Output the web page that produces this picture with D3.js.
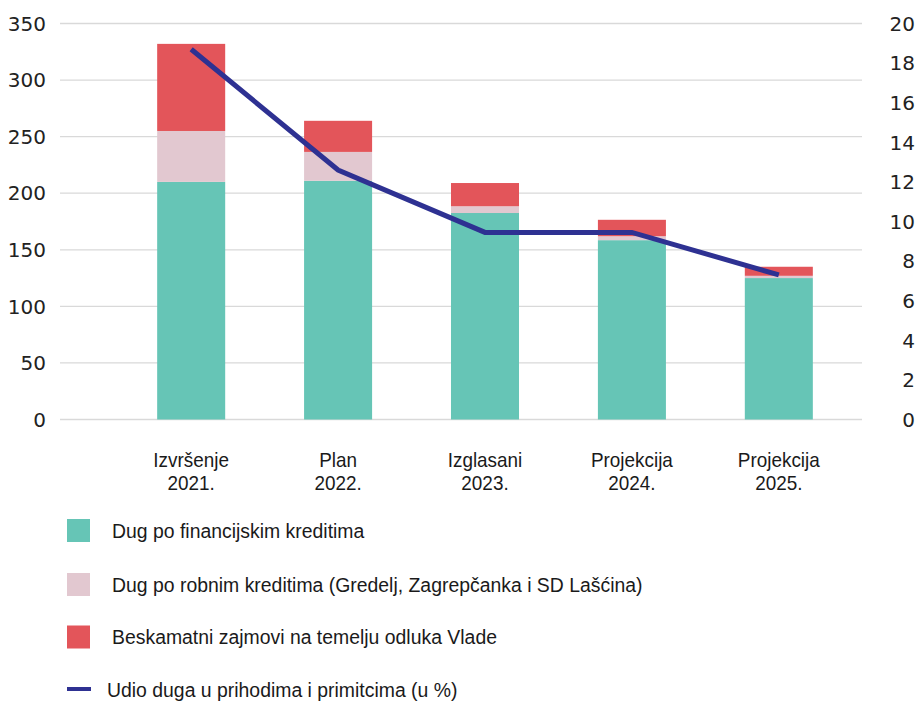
<!DOCTYPE html>
<html>
<head>
<meta charset="utf-8">
<script src="https://cdn.jsdelivr.net/npm/d3@7"></script>
<style>
  body { margin: 0; background: #fff; }
  .tick-label { font-family: "DejaVu Sans", sans-serif; font-size: 20px; fill: #222; }
  .cat-label, .legend-label { font-family: "Liberation Sans", sans-serif; fill: #1a1a1a; }
</style>
</head>
<body>
<div id="chart"></div>
<script>
// categories and series (mil. kn / %)
const categories = ['Izvršenje 2021.', 'Plan 2022.', 'Izglasani 2023.', 'Projekcija 2024.', 'Projekcija 2025.'];
const financijski = [210, 211, 182.5, 158.5, 125];
const robni = [45, 25.5, 6, 3.5, 2];
const beskamatni = [77, 27.5, 20.5, 14.5, 8];
const udio = [18.7, 12.6, 9.45, 9.45, 7.3];
const leftTicks = [0, 50, 100, 150, 200, 250, 300, 350];
const rightTicks = [0, 2, 4, 6, 8, 10, 12, 14, 16, 18, 20];

const seriesNames = [
    'Dug po financijskim kreditima',
    'Dug po robnim kreditima (Gredelj, Zagrepčanka i SD Lašćina)',
    'Beskamatni zajmovi na temelju odluka Vlade'
];
const lineName = 'Udio duga u prihodima i primitcima (u %)';
const colors = ['#66c5b6', '#e2c8d0', '#e3555a'];
const lineColor = '#2e3192';

const width = 919, height = 701;
const plot = { left: 60, right: 862, top: 23.5, bottom: 419.5 };

// squeeze text horizontally to imitate the narrow font of the original
function narrow(sel, k) {
    sel.each(function () {
        let len = this.getComputedTextLength();
        d3.select(this)
            .attr('textLength', len * k)
            .attr('lengthAdjust', 'spacingAndGlyphs');
    });
}

const svg = d3.select('#chart')
    .append('svg')
    .attr('width', width)
    .attr('height', height);

const x = d3.scaleBand()
    .domain(categories)
    .range([117.5, 852.5])
    .paddingInner(0.537)
    .paddingOuter(0.27);

const yLeft = d3.scaleLinear().domain([0, 350]).range([plot.bottom, plot.top]);
const yRight = d3.scaleLinear().domain([0, 20]).range([plot.bottom, plot.top]);

// gridlines
svg.append('g')
    .selectAll('line')
    .data(leftTicks).enter()
    .append('line')
    .attr('x1', plot.left)
    .attr('x2', plot.right)
    .attr('y1', d => yLeft(d))
    .attr('y2', d => yLeft(d))
    .attr('stroke', '#d9d9d9')
    .attr('stroke-width', 1.3);

// left axis labels
svg.append('g')
    .selectAll('text')
    .data(leftTicks).enter()
    .append('text')
    .attr('class', 'tick-label')
    .attr('x', 46)
    .attr('y', d => yLeft(d))
    .attr('dy', '0.36em')
    .attr('text-anchor', 'end')
    .text(d => d);

// right axis labels
svg.append('g')
    .selectAll('text')
    .data(rightTicks).enter()
    .append('text')
    .attr('class', 'tick-label')
    .attr('x', 915)
    .attr('y', d => yRight(d))
    .attr('dy', '0.36em')
    .attr('text-anchor', 'end')
    .text(d => d);

// stacked bars
const table = categories.map((c, i) => ({
    cat: c, s0: financijski[i], s1: robni[i], s2: beskamatni[i]
}));
const stacked = d3.stack().keys(['s0', 's1', 's2'])(table);

svg.append('g')
    .selectAll('g')
    .data(stacked).enter()
    .append('g')
    .attr('fill', (d, i) => colors[i])
    .selectAll('rect')
    .data(d => d).enter()
    .append('rect')
    .attr('x', d => x(d.data.cat))
    .attr('width', x.bandwidth())
    .attr('y', d => yLeft(d[1]))
    .attr('height', d => yLeft(d[0]) - yLeft(d[1]));

// line
const line = d3.line()
    .x((d, i) => x(categories[i]) + x.bandwidth() / 2)
    .y(d => yRight(d));

svg.append('path')
    .datum(udio)
    .attr('fill', 'none')
    .attr('stroke', lineColor)
    .attr('stroke-width', 5)
    .attr('stroke-linejoin', 'miter')
    .attr('d', line);

// category labels (two lines)
const catG = svg.append('g');
categories.forEach(d => {
    let parts = d.split(' ');
    let cx = x(d) + x.bandwidth() / 2;
    parts.forEach((p, j) => {
        catG.append('text')
            .attr('class', 'cat-label')
            .attr('font-size', 21)
            .attr('text-anchor', 'middle')
            .attr('x', cx)
            .attr('y', 467 + j * 23)
            .text(p);
    });
});
narrow(catG.selectAll('text'), 0.9);

// legend
const legendY = [530.5, 584.5, 637];
const legend = svg.append('g');
seriesNames.forEach((name, i) => {
    legend.append('rect')
        .attr('x', 67)
        .attr('y', legendY[i] - 11.5)
        .attr('width', 23)
        .attr('height', 23)
        .attr('fill', colors[i]);
    legend.append('text')
        .attr('class', 'legend-label')
        .attr('font-size', 20)
        .attr('x', 112)
        .attr('y', legendY[i])
        .attr('dy', '0.35em')
        .text(name);
});
legend.append('line')
    .attr('x1', 67)
    .attr('x2', 91)
    .attr('y1', 689)
    .attr('y2', 689)
    .attr('stroke', lineColor)
    .attr('stroke-width', 4);
legend.append('text')
    .attr('class', 'legend-label')
    .attr('font-size', 20)
    .attr('x', 107)
    .attr('y', 690)
    .attr('dy', '0.35em')
    .text(lineName);
narrow(legend.selectAll('text'), 0.97);
</script>
</body>
</html>
